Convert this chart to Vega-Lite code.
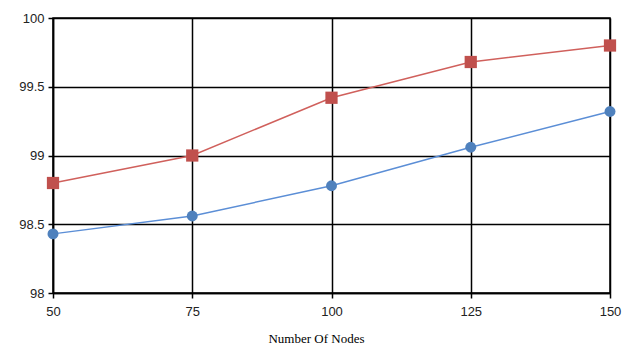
{
  "$schema": "https://vega.github.io/schema/vega-lite/v6.json",
  "width": 557,
  "height": 275,
  "autosize": {"type": "none"},
  "padding": {"left": 53, "top": 18, "right": 16, "bottom": 60},
  "background": "white",
  "config": {
    "view": {"stroke": "black", "strokeWidth": 1.5},
    "axis": {
      "gridColor": "black", "gridWidth": 1.5, "gridOpacity": 1,
      "domainColor": "black", "domainWidth": 1.5,
      "tickColor": "black", "tickWidth": 1.5, "tickSize": 5,
      "labelFont": "Liberation Sans", "labelFontSize": 13, "labelColor": "#222",
      "titleFont": "Liberation Serif", "titleFontSize": 13, "titleFontWeight": "normal", "titleColor": "black"
    }
  },
  "data": {"values": [
    {"nodes": 50, "series": "AODV", "pdr": 98.43},
    {"nodes": 75, "series": "AODV", "pdr": 98.56},
    {"nodes": 100, "series": "AODV", "pdr": 98.78},
    {"nodes": 125, "series": "AODV", "pdr": 99.06},
    {"nodes": 150, "series": "AODV", "pdr": 99.32},
    {"nodes": 50, "series": "AOMDV", "pdr": 98.80},
    {"nodes": 75, "series": "AOMDV", "pdr": 99.00},
    {"nodes": 100, "series": "AOMDV", "pdr": 99.42},
    {"nodes": 125, "series": "AOMDV", "pdr": 99.68},
    {"nodes": 150, "series": "AOMDV", "pdr": 99.80}
  ]},
  "encoding": {
    "x": {"field": "nodes", "type": "quantitative",
      "scale": {"domain": [50, 150], "nice": false},
      "axis": {"values": [50, 75, 100, 125, 150], "title": "Number Of Nodes", "labelFlush": false, "labelPadding": 7, "titlePadding": 14, "titleX": 263}},
    "y": {"field": "pdr", "type": "quantitative",
      "scale": {"domain": [98, 100], "nice": false, "zero": false},
      "axis": {"values": [98, 98.5, 99, 99.5, 100], "format": "~f", "title": null, "labelPadding": 4, "labelFlush": false}}
  },
  "layer": [
    {
      "mark": {"type": "line", "strokeWidth": 1.5},
      "encoding": {
        "stroke": {"field": "series", "type": "nominal",
          "scale": {"domain": ["AODV", "AOMDV"], "range": ["#5B8ED6", "#D0605C"]},
          "legend": null}
      }
    },
    {
      "mark": {"type": "point", "filled": true, "opacity": 1},
      "encoding": {
        "fill": {"field": "series", "type": "nominal",
          "scale": {"domain": ["AODV", "AOMDV"], "range": ["#4F81BD", "#C0504D"]},
          "legend": null},
        "shape": {"condition": {"test": "datum.series === 'AODV'", "value": "circle"}, "value": "square"},
        "size": {"condition": {"test": "datum.series === 'AODV'", "value": 120}, "value": 150}
      }
    },
    {
      "mark": {"type": "point", "filled": true, "opacity": 0},
      "encoding": {
        "shape": {"field": "series", "type": "nominal",
          "scale": {"domain": ["AODV", "AOMDV"], "range": [
            "M-3,-0.08H-0.45V0.08H-3ZM0.45,-0.08H3V0.08H0.45ZM-0.5,0a0.5,0.5 0 1,0 1,0a0.5,0.5 0 1,0 -1,0Z",
            "M-3,-0.08H-0.45V0.08H-3ZM0.45,-0.08H3V0.08H0.45ZM-0.5,-0.5H0.5V0.5H-0.5Z"
          ]},
          "legend": {
            "title": null, "orient": "none", "legendX": 362, "legendY": 212,
            "strokeColor": "black", "padding": 5,
            "symbolSize": 350, "symbolOpacity": 1, "symbolStrokeWidth": 0,
            "symbolOffset": 49, "labelOffset": 22, "rowPadding": 8,
            "labelFont": "Liberation Serif", "labelFontSize": 15, "labelColor": "#222",
            "encode": {
              "symbols": {
                "update": {
                  "fill": {"signal": "datum.value === 'AODV' ? '#4F81BD' : '#C0504D'"},
                  "stroke": {"signal": "datum.value === 'AODV' ? '#4F81BD' : '#C0504D'"}
                },
                "fill": {"signal": "datum.value === 'AODV' ? '#4F81BD' : '#C0504D'"},
                "stroke": {"signal": "datum.value === 'AODV' ? '#4F81BD' : '#C0504D'"}
              }
            }
          }}
      }
    }
  ]
}
